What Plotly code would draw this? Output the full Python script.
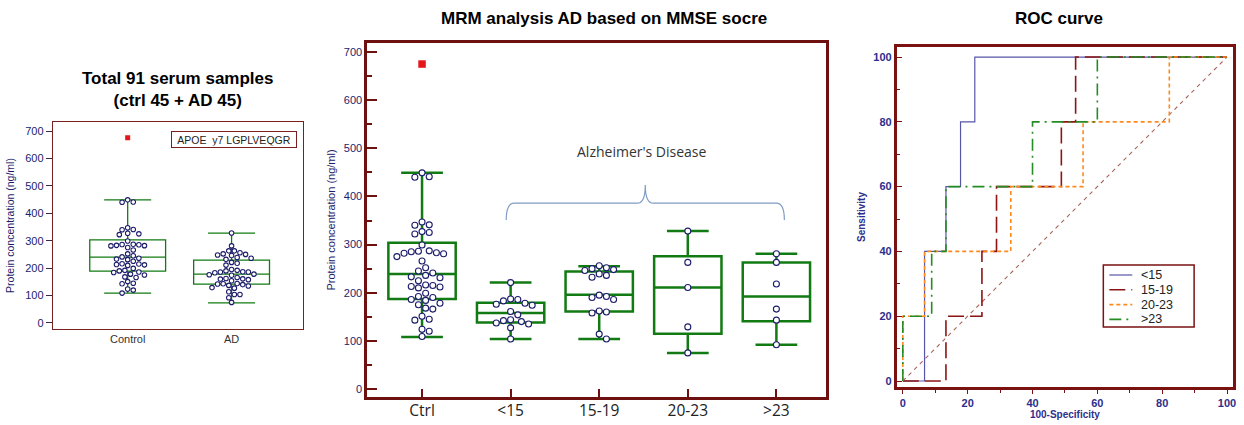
import plotly.graph_objects as go

W, H = 1244, 425

# ---------------- data ----------------
left_categories = ["Control", "AD"]
mid_categories = ["Ctrl", "<15", "15-19", "20-23", ">23"]

ctrl_vals = [449, 441, 440, 347, 341, 340, 327, 325, 322, 299, 287, 286, 285, 283, 282,
             281, 275, 266, 252, 245, 241, 236, 233, 231, 225, 216, 215, 213, 212, 210,
             199, 192, 190, 186, 184, 178, 175, 168, 166, 151, 145, 143, 124, 120, 109]
ctrl_outlier = [675]
lt15_vals = [221, 187, 186, 183, 178, 176, 174, 161, 154, 144, 142, 140, 137, 135, 127, 104]
g15_19_vals = [256, 252, 250, 248, 246, 239, 236, 232, 195, 192, 190, 186, 162, 160, 158, 114, 104]
g20_23_vals = [328, 263, 211, 129, 75]
gt23_vals = [281, 263, 218, 166, 143, 92]

# box statistics
left_q1 = [189, 142]
left_median = [240, 178]
left_q3 = [303, 229]
left_low = [109, 73]
left_high = [449, 328]

mid_q1 = [187, 138, 161, 115, 141]
mid_median = [239, 158, 196, 211, 192]
mid_q3 = [304, 179, 244, 276, 263]
mid_low = [108, 104, 104, 75, 92]
mid_high = [449, 221, 255, 328, 281]

# ROC curves (100-Specificity, Sensitivity)
roc_names = ["<15", "15-19", "20-23", ">23"]
roc_lt15_x = [0, 6.7, 6.7, 13.3, 13.3, 17.8, 17.8, 22.2, 22.2, 100]
roc_lt15_y = [0, 0, 40, 40, 60, 60, 80, 80, 100, 100]
roc_15_19_x = [0, 13.3, 13.3, 24.4, 24.4, 28.9, 28.9, 48.9, 48.9, 53.3, 53.3, 100]
roc_15_19_y = [0, 0, 20, 20, 40, 40, 60, 60, 80, 80, 100, 100]
roc_20_23_x = [0, 0, 6.7, 6.7, 33.3, 33.3, 55.6, 55.6, 82.2, 82.2, 100]
roc_20_23_y = [0, 20, 20, 40, 40, 60, 60, 80, 80, 100, 100]
roc_gt23_x = [0, 0, 8.9, 8.9, 13.3, 13.3, 40, 40, 60, 60, 100]
roc_gt23_y = [0, 20, 20, 40, 40, 60, 60, 80, 80, 100, 100]
diag_x = [0, 100]
diag_y = [0, 100]

# ---------------- layout constants ----------------
L_XDOM = [53 / W, 304 / W]
L_YDOM = [1 - 329 / H, 1 - 122 / H]
L_XR = [-0.72, 1.69]
L_YR = [-21.9, 732.8]

M_XDOM = [368 / W, 828 / W]
M_YDOM = [1 - 397 / H, 1 - 43 / H]
M_XR = [-0.62, 4.56]
M_YR = [-16.6, 718.7]

R_XDOM = [899 / W, 1236 / W]
R_YDOM = [1 - 387 / H, 1 - 47 / H]
R_XR = [-1.85, 101.85]
R_YR = [-1.85, 103.1]

GREEN = "rgb(18,122,18)"
NAVY = "#1c1c6b"
MAROON = "#6e1010"
RED = "#e5161a"
ROC_FRAME = "#7a1212"
ROC_TXT = "#2e2e8c"


def ppu(dom, rng, size):
    return (dom[1] - dom[0]) * size / (rng[1] - rng[0])


def swarm(vals, center, xppu, yppu, d):
    placed = []
    xs = []
    cands = [0.0]
    for i in range(1, 60):
        cands += [i * d / 2, -i * d / 2]
    for v in vals:
        py = v * yppu
        chosen = 0.0
        for off in cands:
            if all((off - ox) ** 2 + (py - oy) ** 2 >= (d * 0.97) ** 2 for ox, oy in placed):
                chosen = off
                break
        placed.append((chosen, py))
        xs.append(center + chosen / xppu)
    return xs


fig = go.Figure()

# ---------------- left panel ----------------
lx_ppu = ppu(L_XDOM, L_XR, W)
ly_ppu = ppu(L_YDOM, L_YR, H)
left_groups = [ctrl_vals, lt15_vals + g15_19_vals + g20_23_vals + gt23_vals]
for i in range(2):
    fig.add_trace(go.Box(
        x=[i], q1=[left_q1[i]], median=[left_median[i]], q3=[left_q3[i]],
        lowerfence=[left_low[i]], upperfence=[left_high[i]], orientation="v",
        width=0.73, whiskerwidth=0.62, boxpoints=False,
        line=dict(color=GREEN, width=1.3), fillcolor="rgba(0,0,0,0)",
        showlegend=False, hoverinfo="skip", xaxis="x", yaxis="y"))
    vals = sorted(left_groups[i], reverse=True)
    fig.add_trace(go.Scatter(
        x=swarm(vals, i, lx_ppu, ly_ppu, 5.6), y=vals, mode="markers",
        marker=dict(symbol="circle", size=4.5, color="white", line=dict(color=NAVY, width=1.1)),
        showlegend=False, hoverinfo="skip", xaxis="x", yaxis="y"))
fig.add_trace(go.Scatter(
    x=[0] * len(ctrl_outlier), y=ctrl_outlier, mode="markers",
    marker=dict(symbol="square", size=5, color=RED),
    showlegend=False, hoverinfo="skip", xaxis="x", yaxis="y"))

# ---------------- middle panel ----------------
mx_ppu = ppu(M_XDOM, M_XR, W)
my_ppu = ppu(M_YDOM, M_YR, H)
mid_groups = [ctrl_vals, lt15_vals, g15_19_vals, g20_23_vals, gt23_vals]
for i in range(5):
    fig.add_trace(go.Box(
        x=[i], q1=[mid_q1[i]], median=[mid_median[i]], q3=[mid_q3[i]],
        lowerfence=[mid_low[i]], upperfence=[mid_high[i]], orientation="v",
        width=0.76, whiskerwidth=0.62, boxpoints=False,
        line=dict(color=GREEN, width=2.5), fillcolor="rgba(0,0,0,0)",
        showlegend=False, hoverinfo="skip", xaxis="x2", yaxis="y2"))
    vals = sorted(mid_groups[i], reverse=True)
    fig.add_trace(go.Scatter(
        x=swarm(vals, i, mx_ppu, my_ppu, 7.2), y=vals, mode="markers",
        marker=dict(symbol="circle", size=6, color="white", line=dict(color=NAVY, width=1.1)),
        showlegend=False, hoverinfo="skip", xaxis="x2", yaxis="y2"))
fig.add_trace(go.Scatter(
    x=[0] * len(ctrl_outlier), y=ctrl_outlier, mode="markers",
    marker=dict(symbol="square", size=7.5, color=RED),
    showlegend=False, hoverinfo="skip", xaxis="x2", yaxis="y2"))

# ---------------- ROC panel ----------------
fig.add_trace(go.Scatter(
    x=diag_x, y=diag_y, mode="lines", line=dict(color="#a8645c", width=1.1, dash="4px,4px"),
    showlegend=False, hoverinfo="skip", xaxis="x3", yaxis="y3"))
roc_x = [roc_lt15_x, roc_15_19_x, roc_20_23_x, roc_gt23_x]
roc_y = [roc_lt15_y, roc_15_19_y, roc_20_23_y, roc_gt23_y]
roc_styles = [
    dict(color="#5656a8", width=1.2, dash="solid"),
    dict(color="#8b1414", width=1.6, dash="16px,6px"),
    dict(color="#ff8a1c", width=1.6, dash="4px,3px"),
    dict(color="#238c23", width=1.6, dash="12px,5px,2px,5px"),
]
for k in range(4):
    fig.add_trace(go.Scatter(
        x=roc_x[k], y=roc_y[k], mode="lines", name=roc_names[k], line=roc_styles[k],
        showlegend=False, hoverinfo="skip", xaxis="x3", yaxis="y3"))

# ---------------- axes ----------------
fig.update_layout(
    width=W, height=H, margin=dict(l=0, r=0, t=0, b=0),
    paper_bgcolor="white", plot_bgcolor="white",
    font=dict(family="Liberation Sans, Arial, sans-serif", color="#222"),
    boxmode="overlay", showlegend=False,
    xaxis=dict(domain=L_XDOM, range=L_XR, anchor="y", tickvals=[0, 1], ticktext=left_categories,
               showline=True, linecolor="#7a1f1f", linewidth=1.3, mirror=True, ticks="",
               showgrid=False, zeroline=False, tickfont=dict(size=11, color="#333")),
    yaxis=dict(domain=L_YDOM, range=L_YR, anchor="x", tick0=0, dtick=100,
               showline=True, linecolor="#7a1f1f", linewidth=1.3, mirror=True,
               ticks="outside", ticklen=6, tickcolor="#3a2a4a", tickwidth=1,
               showgrid=False, zeroline=False, tickfont=dict(size=11, color=NAVY),
               title=dict(text="Protein concentration (ng/ml)", font=dict(size=10.5, color=NAVY), standoff=8)),
    xaxis2=dict(domain=M_XDOM, range=M_XR, anchor="y2", tickvals=list(range(5)), ticktext=mid_categories,
                showline=True, linecolor=MAROON, linewidth=2.5, mirror=True,
                ticks="inside", ticklen=8, tickwidth=2, tickcolor=MAROON,
                showgrid=False, zeroline=False, ticklabelstandoff=-2,
                tickfont=dict(size=15.5, color="#222", family="Open Sans, sans-serif")),
    yaxis2=dict(domain=M_YDOM, range=M_YR, anchor="x2", tick0=0, dtick=100,
                showline=True, linecolor=MAROON, linewidth=2.5, mirror=True,
                ticks="inside", ticklen=10, tickwidth=2, tickcolor=MAROON,
                minor=dict(dtick=50, ticks="inside", ticklen=5, tickwidth=1.5, tickcolor=MAROON),
                showgrid=False, zeroline=False, tickfont=dict(size=11, color=NAVY),
                title=dict(text="Protein concentration (ng/ml)", font=dict(size=11, color=NAVY), standoff=6)),
    xaxis3=dict(domain=R_XDOM, range=R_XR, anchor="y3", tick0=0, dtick=20,
                showline=True, linecolor=ROC_FRAME, linewidth=3, mirror=True,
                ticks="outside", ticklen=4, tickcolor=ROC_FRAME,
                minor=dict(dtick=10, ticks="outside", ticklen=3, tickcolor=ROC_FRAME),
                showgrid=False, zeroline=False, tickfont=dict(size=11, color=ROC_TXT, weight="bold"),
                title=dict(text="100-Specificity", font=dict(size=10, color=ROC_TXT, weight="bold"), standoff=2)),
    yaxis3=dict(domain=R_YDOM, range=R_YR, anchor="x3", tick0=0, dtick=20,
                showline=True, linecolor=ROC_FRAME, linewidth=3, mirror=True,
                ticks="inside", ticklen=5, tickcolor=ROC_FRAME,
                minor=dict(dtick=10, ticks="inside", ticklen=3, tickcolor=ROC_FRAME),
                showgrid=False, zeroline=False, tickfont=dict(size=11, color=ROC_TXT, weight="bold"),
                title=dict(text="Sensitivity", font=dict(size=10, color=ROC_TXT, weight="bold"), standoff=6)),
)

# ---------------- ROC legend (drawn box) ----------------
LG_X0, LG_X1, LG_Y0, LG_Y1 = 1106, 1197, 265, 327
fig.add_shape(type="rect", xref="paper", yref="paper",
              x0=LG_X0 / W, x1=LG_X1 / W, y0=1 - LG_Y1 / H, y1=1 - LG_Y0 / H,
              line=dict(color=ROC_FRAME, width=1.5), fillcolor="white", layer="above")
for k in range(4):
    row_y = 1 - (275 + k * 14.8) / H
    st = roc_styles[k]
    fig.add_shape(type="line", xref="paper", yref="paper",
                  x0=1112 / W, x1=1135 / W, y0=row_y, y1=row_y,
                  line=dict(color=st["color"], width=st["width"], dash=st["dash"]), layer="above")
    fig.add_annotation(text=roc_names[k], xref="paper", yref="paper", x=1142 / W, y=row_y,
                       xanchor="left", yanchor="middle", showarrow=False,
                       font=dict(size=12.5, color="#222"))

# ---------------- titles & annotations ----------------
title_font = dict(family="Liberation Sans, Arial, sans-serif", size=17, color="black", weight="bold")
fig.add_annotation(text="Total 91 serum samples<br>(ctrl 45 + AD 45)", xref="paper", yref="paper",
                   x=178 / W, y=1 - 89 / H, xanchor="center", yanchor="middle",
                   showarrow=False, font=title_font)
fig.add_annotation(text="MRM analysis AD based on MMSE socre", xref="paper", yref="paper",
                   x=605 / W, y=1 - 18 / H, xanchor="center", yanchor="middle",
                   showarrow=False, font=title_font)
fig.add_annotation(text="ROC curve", xref="paper", yref="paper",
                   x=1062 / W, y=1 - 18 / H, xanchor="center", yanchor="middle",
                   showarrow=False, font=title_font)
fig.add_annotation(text="APOE  y7 LGPLVEQGR", xref="paper", yref="paper",
                   x=234.5 / W, y=1 - 139 / H, xanchor="center", yanchor="middle",
                   showarrow=False, width=121, height=12, bordercolor="#7a1f1f", borderwidth=1, borderpad=1.5,
                   font=dict(size=10.5, color="#222"))
fig.add_annotation(text="Alzheimer's Disease", xref="x2", yref="y2", x=2.48, y=494,
                   xanchor="center", yanchor="middle", showarrow=False,
                   font=dict(family="Open Sans, sans-serif", size=14, color="#333"))

# curly brace over the AD groups (data coordinates)
bx0, bx1 = 1 - 0.05, 4 + 0.09
bxc = (bx0 + bx1) / 2
by_end, by_h, by_peak = 351, 386, 424
r = 0.09
brace = (f"M {bx0},{by_end} Q {bx0},{by_h} {bx0 + r},{by_h} L {bxc - r},{by_h} "
         f"Q {bxc},{by_h} {bxc},{by_peak} Q {bxc},{by_h} {bxc + r},{by_h} "
         f"L {bx1 - r},{by_h} Q {bx1},{by_h} {bx1},{by_end}")
fig.add_shape(type="path", path=brace, xref="x2", yref="y2",
              line=dict(color="#7f9cc2", width=1.2))

fig.write_html("out.html", config={"displayModeBar": False},
               post_script="document.body.style.margin='0px';document.body.style.overflow='hidden';")
